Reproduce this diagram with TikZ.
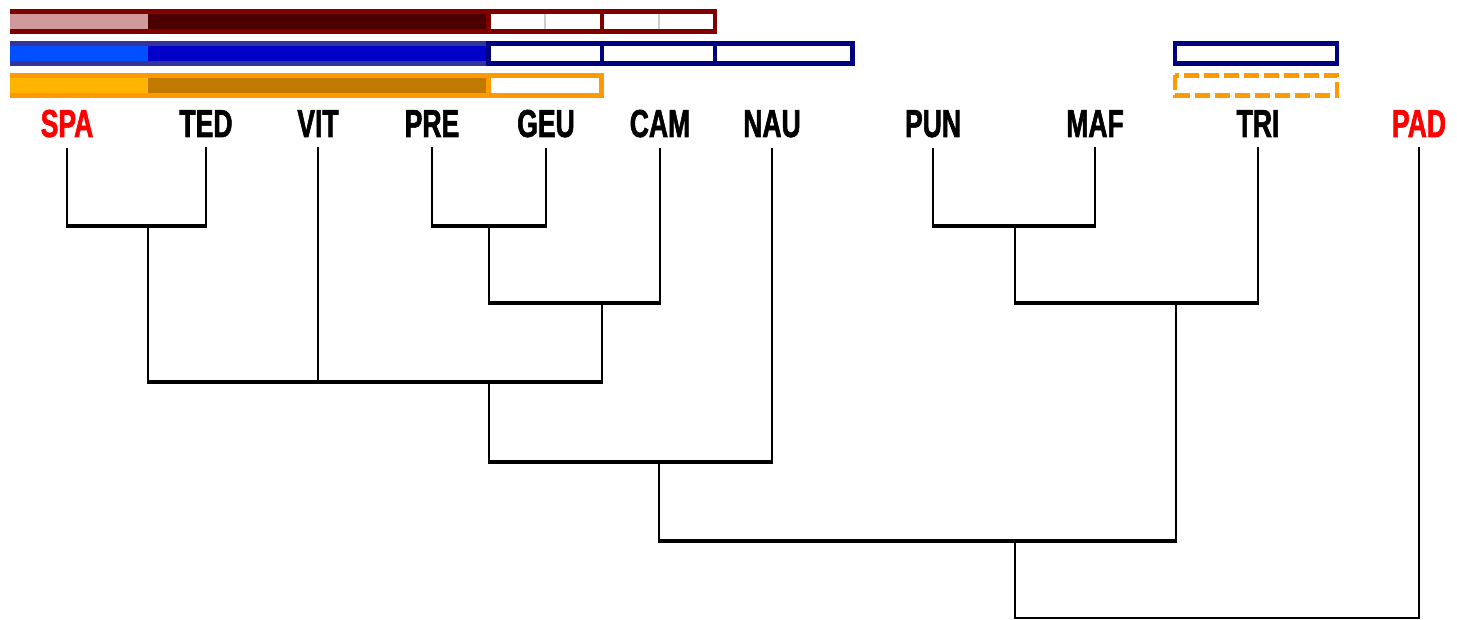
\documentclass[tikz,border=0pt]{standalone}
\usepackage{fontspec}
\setmainfont{Liberation Sans}[FakeStretch=0.68, BoldFeatures={FakeBold=1.5}]
\usepackage{tikz}
\definecolor{maroonbar}{HTML}{800000}
\definecolor{maroonlight}{HTML}{D09A9A}
\definecolor{maroondark}{HTML}{4C0000}
\definecolor{navybar}{HTML}{000080}
\definecolor{navyedge}{HTML}{333399}
\definecolor{bluelight}{HTML}{0050FF}
\definecolor{bluedark}{HTML}{0000C8}
\definecolor{orangebar}{HTML}{FF9900}
\definecolor{orangelight}{HTML}{FFB400}
\definecolor{orangedark}{HTML}{C07A00}
\definecolor{labelred}{HTML}{FF0000}

\begin{document}
\begin{tikzpicture}[x=1pt,y=-1pt,
  lab/.style={font=\fontsize{39}{40}\selectfont\bfseries, anchor=base, inner xsep=0pt, inner ysep=10pt},
  stem/.style={line width=2pt},
  bar/.style={line width=4.5pt, shorten <=-1pt, shorten >=-1pt},
  box/.style={line width=4.5pt, fill=white}]
\useasboundingbox (0,0) rectangle (1457,620);

% leaves
\node[lab, text=labelred] (spa) at (67,137) {SPA};
\node[lab] (ted) at (206,137) {TED};
\node[lab] (vit) at (318,137) {VIT};
\node[lab] (pre) at (432,137) {PRE};
\node[lab] (geu) at (546,137) {GEU};
\node[lab] (cam) at (660,137) {CAM};
\node[lab] (nau) at (772,137) {NAU};
\node[lab] (pun) at (933,137) {PUN};
\node[lab] (maf) at (1095,137) {MAF};
\node[lab] (tri) at (1258,137) {TRI};
\node[lab, text=labelred] (pad) at (1419,137) {PAD};

% junctions
\coordinate (j1) at (148,226);
\coordinate (j2) at (489,226);
\coordinate (j3) at (1015,226);
\coordinate (j4) at (602,303);
\coordinate (j5) at (1176,303);
\coordinate (j6) at (489,382);
\coordinate (j7) at (659,462);
\coordinate (j8) at (1015,541);
\coordinate (root) at (1015,618);

% vertical lines
\draw[stem] (spa.south) -- (spa |- j1);
\draw[stem] (ted.south) -- (ted |- j1);
\draw[stem] (vit.south) -- (vit |- j6);
\draw[stem] (pre.south) -- (pre |- j2);
\draw[stem] (geu.south) -- (geu |- j2);
\draw[stem] (cam.south) -- (cam |- j4);
\draw[stem] (nau.south) -- (nau |- j7);
\draw[stem] (pun.south) -- (pun |- j3);
\draw[stem] (maf.south) -- (maf |- j3);
\draw[stem] (tri.south) -- (tri |- j5);
\draw[stem] (pad.south) -- (pad |- root);
\draw[stem] (j1) -- (j1 |- j6);
\draw[stem] (j2) -- (j2 |- j4);
\draw[stem] (j3) -- (j3 |- j5);
\draw[stem] (j4) -- (j4 |- j6);
\draw[stem] (j5) -- (j5 |- j8);
\draw[stem] (j6) -- (j6 |- j7);
\draw[stem] (j7) -- (j7 |- j8);
\draw[stem] (j8) -- (root);

% horizontal lines
\draw[bar] (spa |- j1) -- (ted |- j1);
\draw[bar] (pre |- j2) -- (geu |- j2);
\draw[bar] (pun |- j3) -- (maf |- j3);
\draw[bar] (j2 |- j4) -- (cam |- j4);
\draw[bar] (j3 |- j5) -- (tri |- j5);
\draw[bar] (j1 |- j6) -- (j4 |- j6);
\draw[bar] (j6 |- j7) -- (nau |- j7);
\draw[bar] (j7 |- j8) -- (j5 |- j8);
\draw[line width=2.5pt, shorten <=-1pt, shorten >=-1pt] (root) -- (pad |- root);

% red bar
\fill[maroonbar] (10,9) rectangle (488,34);
\fill[maroonlight] (10,14) rectangle (148,29);
\fill[maroondark] (148,14) rectangle (486,29);
\foreach \a/\b in {488.5/602, 602/715}
  \draw[box, draw=maroonbar] (\a,11.5) rectangle (\b,31.5);
\foreach \x in {545,659}
  \draw[gray!40, line width=1.5pt] (\x,14) -- (\x,29);

% blue bar
\fill[navyedge] (10,41) rectangle (488,66);
\fill[bluelight] (10,46) rectangle (148,61);
\fill[bluedark] (148,46) rectangle (486,61);
\foreach \a/\b in {488.5/602, 602/715, 715/852.5}
  \draw[box, draw=navybar] (\a,43.5) rectangle (\b,63.5);

% orange bar
\fill[orangebar] (10,73) rectangle (488,98);
\fill[orangelight] (10,78) rectangle (148,93);
\fill[orangedark] (148,78) rectangle (486,93);
\draw[box, draw=orangebar] (488.5,75.5) rectangle (601.5,95.5);

% boxes over TRI
\draw[box, draw=navybar] (1175,43.5) rectangle (1337,63.5);
\draw[box, draw=orangebar, dash pattern=on 15pt off 5pt] (1175,75.5) rectangle (1337,95.5);
\end{tikzpicture}
\end{document}
